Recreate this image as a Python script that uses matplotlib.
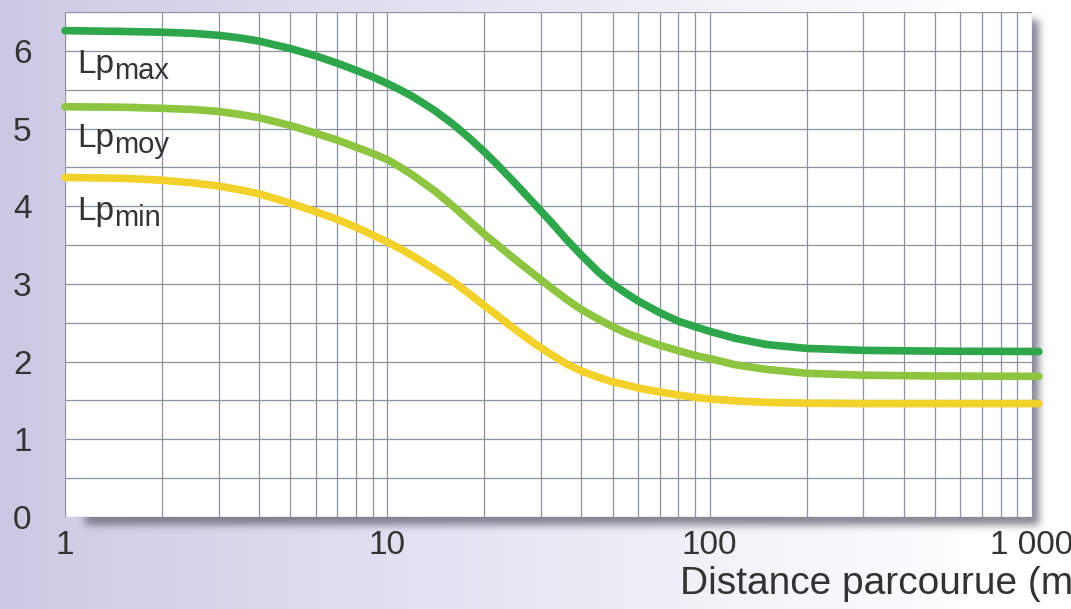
import math
import numpy as np
import matplotlib
matplotlib.use("Agg")
import matplotlib.pyplot as plt
from matplotlib.ticker import FixedLocator, NullFormatter

plt.rcParams['font.family'] = ['Liberation Sans', 'DejaVu Sans']

# ---- data ----
distance = [1, 1.5, 2, 2.5, 3, 3.5, 4, 5, 6, 7, 8, 9, 10, 11, 12, 14, 16, 18, 20, 22,
            25, 28, 32, 36, 40, 45, 50, 55, 60, 70, 80, 90, 100, 120, 150, 200, 300,
            500, 1050]
lp_max = [6.26, 6.25, 6.24, 6.225, 6.20, 6.165, 6.125, 6.03, 5.935, 5.84, 5.75, 5.665,
          5.58, 5.495, 5.41, 5.235, 5.055, 4.875, 4.70, 4.53, 4.29, 4.07, 3.81, 3.57, 3.37,
          3.16, 3.00, 2.88, 2.78, 2.63, 2.52, 2.45, 2.39, 2.30, 2.22, 2.17, 2.145,
          2.135, 2.13]
lp_moy = [5.28, 5.275, 5.26, 5.245, 5.22, 5.18, 5.14, 5.04, 4.94, 4.85, 4.76, 4.68,
          4.60, 4.50, 4.40, 4.20, 4.00, 3.81, 3.64, 3.50, 3.31, 3.15, 2.96, 2.80, 2.67,
          2.55, 2.45, 2.37, 2.31, 2.21, 2.14, 2.08, 2.04, 1.96, 1.90, 1.85, 1.825,
          1.815, 1.81]
lp_min = [4.37, 4.36, 4.335, 4.30, 4.26, 4.21, 4.16, 4.04, 3.93, 3.83, 3.73, 3.63,
          3.54, 3.45, 3.36, 3.19, 3.03, 2.87, 2.72, 2.59, 2.41, 2.26, 2.10, 1.97, 1.88,
          1.80, 1.74, 1.70, 1.66, 1.61, 1.57, 1.54, 1.52, 1.495, 1.475, 1.465, 1.46,
          1.46, 1.46]
series_names = ["max", "moy", "min"]
series_colors = ["#2ea64b", "#8dc540", "#f2d12a"]
label_y = [5.71, 4.76, 3.82]

x_ticks = [1, 10, 100, 1000]
x_ticklabels = ["1", "10", "100", "1 000"]
y_ticks = [0, 1, 2, 3, 4, 5, 6]
y_ticklabels = ["0", "1", "2", "3", "4", "5", "6"]
x_label = "Distance parcourue (m)"

# ---- figure ----
W, H = 1071, 609
fig = plt.figure(figsize=(W / 100, H / 100), dpi=100)

# background gradient + drop shadow (pixel space)
bg = fig.add_axes([0, 0, 1, 1], zorder=-10)
bg.set_xlim(0, W)
bg.set_ylim(H, 0)
bg.axis("off")
xs = np.arange(W) + 0.5
ys = np.arange(H) + 0.5
t = np.clip(xs / 980.0, 0, 1) ** 0.9
left_c = np.array([204, 200, 228]) / 255.0
grad = (1 - t)[:, None] * left_c[None, :] + t[:, None] * np.ones(3)[None, :]
img = np.repeat(grad[None, :, :], H, axis=0)
bg.imshow(img, extent=(0, W, H, 0), aspect="auto", interpolation="bilinear")

ax_l, ax_r, ax_t, ax_b = 65, 1032, 12, 517
erf = np.vectorize(math.erf)
s = 5.5
dx, dy = 7, 8
sx = 0.5 * (erf((xs - (ax_l + 20)) / s) - erf((xs - (ax_r + dx)) / s))
sy = 0.5 * (erf((ys - (ax_t + dy)) / s) - erf((ys - (ax_b + dy)) / s))
alpha = np.outer(sy, sx) * 0.8
shadow = np.zeros((H, W, 4))
shadow[..., :3] = np.array([105, 105, 120]) / 255.0
shadow[..., 3] = alpha
bg.imshow(shadow, extent=(0, W, H, 0), aspect="auto", interpolation="bilinear")

ax = fig.add_axes([ax_l / W, 1 - ax_b / H, (ax_r - ax_l) / W, (ax_b - ax_t) / H])
ax.set_facecolor("white")
ax.set_xscale("log")
ax.set_xlim(1, 1000)
ax.set_ylim(0, 6.5)

ax.xaxis.set_major_locator(FixedLocator(x_ticks))
ax.set_xticklabels(x_ticklabels)
ax.xaxis.set_minor_locator(FixedLocator([m * 10 ** e for e in range(3) for m in range(2, 10)]))
ax.xaxis.set_minor_formatter(NullFormatter())
ax.set_yticks(y_ticks)
ax.set_yticklabels(y_ticklabels)
ax.yaxis.set_minor_locator(FixedLocator(np.arange(0.5, 6.6, 1.0)))

ax.grid(True, which="both", color="#8c929e", linewidth=0.9)
ax.set_axisbelow(True)
for sp in ax.spines.values():
    sp.set_visible(False)
ax.tick_params(which="both", length=0)
ax.tick_params(axis="x", pad=9, labelsize=24, labelcolor="#333333")
ax.tick_params(axis="y", pad=24, labelsize=24, labelcolor="#333333")

for vals, col in zip([lp_max, lp_moy, lp_min], series_colors):
    ax.plot(distance, vals, color=col, linewidth=5.5, solid_capstyle="round",
            solid_joinstyle="round", clip_on=False, zorder=3)

for name, yv in zip(series_names, label_y):
    t1 = ax.text(1.09, yv, "Lp", fontsize=24, color="#333333", va="baseline", zorder=4)
    ax.annotate(name, xy=(1, 0), xycoords=t1, xytext=(0, -5), textcoords="offset pixels",
                fontsize=21, color="#333333", va="bottom", ha="left", zorder=4)

fig.text(680 / W, 1 - 594 / H, x_label, fontsize=28, color="#333333",
         ha="left", va="baseline")

fig.savefig("out.png", dpi=100)
